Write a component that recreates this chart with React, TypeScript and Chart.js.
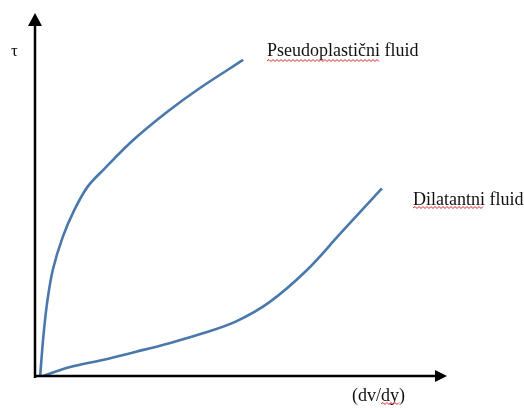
import React, { useEffect, useRef } from "react";
import { Chart, registerables } from "chart.js";
Chart.register(...registerables);

// Shear rate (x) and shear stress (y), arbitrary units
const pseudoX = [0, 0.81, 1.72, 3.12, 5.58, 8.43, 11.7, 15.8, 22.9, 31.2, 39.3, 49.9];
const pseudoY = [0, 11.1, 20.3, 29.4, 38.5, 45.9, 52.3, 57.2, 65.1, 72.8, 79.4, 87.1];
const dilatX = [0, 7.2, 15.4, 23.6, 31.8, 40.0, 48.2, 56.3, 65.6, 73.7, 84.0];
const dilatY = [0, 2.7, 4.7, 6.95, 9.3, 12.0, 15.3, 20.5, 29.4, 39.3, 51.8];

const yLabel = "τ";
const xLabel = "(dv/dy)";
const pseudoLabel = "Pseudoplastični fluid";
const dilatLabel = "Dilatantni fluid";

const LINE_COLOR = "#4a78ab";
const FONT = '"Liberation Serif", "Times New Roman", serif';

function wavy(ctx: CanvasRenderingContext2D, x0: number, x1: number, y: number) {
  ctx.save();
  ctx.strokeStyle = "#e02020";
  ctx.lineWidth = 1;
  ctx.beginPath();
  let up = true;
  ctx.moveTo(x0, y);
  for (let x = x0 + 2; x <= x1; x += 2) {
    ctx.lineTo(x, up ? y - 1.5 : y + 0.5);
    up = !up;
  }
  ctx.stroke();
  ctx.restore();
}

const decorPlugin = {
  id: "decor",
  afterDatasetsDraw(chart: any) {
    const ctx: CanvasRenderingContext2D = chart.ctx;
    const { left, bottom, top, right } = chart.chartArea;
    ctx.save();
    ctx.strokeStyle = "#000";
    ctx.fillStyle = "#000";
    ctx.lineWidth = 2.5;
    // y axis
    const ax = left - 1;
    ctx.beginPath();
    ctx.moveTo(ax, bottom + 1);
    ctx.lineTo(ax, top + 12);
    ctx.stroke();
    ctx.beginPath();
    ctx.moveTo(ax, top);
    ctx.lineTo(ax - 7, top + 13);
    ctx.lineTo(ax + 7, top + 13);
    ctx.closePath();
    ctx.fill();
    // x axis
    const ay = bottom - 1;
    ctx.beginPath();
    ctx.moveTo(ax - 1, ay);
    ctx.lineTo(right - 10, ay);
    ctx.stroke();
    ctx.beginPath();
    ctx.moveTo(right, ay);
    ctx.lineTo(right - 12, ay - 6);
    ctx.lineTo(right - 12, ay + 6);
    ctx.closePath();
    ctx.fill();

    // labels
    ctx.textBaseline = "alphabetic";
    ctx.textAlign = "left";
    ctx.fillStyle = "#111";
    ctx.font = `17px ${FONT}`;
    ctx.fillText(yLabel, 11, 56);
    ctx.font = `18px ${FONT}`;
    ctx.fillText(pseudoLabel, 267, 56);
    const w1 = ctx.measureText("Pseudoplastični").width;
    wavy(ctx, 267, 267 + w1, 61);
    ctx.fillText(dilatLabel, 413, 205);
    const w2 = ctx.measureText("Dilatantni").width;
    wavy(ctx, 413, 413 + w2, 208);
    ctx.fillText(xLabel, 352, 401);
    const w3a = ctx.measureText("(dv/").width;
    const w3b = ctx.measureText("(dv/dy").width;
    wavy(ctx, 352 + w3a, 352 + w3b, 404);
    ctx.restore();
  },
};

export default function App() {
  const ref = useRef<HTMLCanvasElement>(null);
  useEffect(() => {
    if (!ref.current) return;
    const chart = new Chart(ref.current, {
      type: "line",
      data: {
        datasets: [
          {
            label: pseudoLabel,
            data: pseudoX.map((x, i) => ({ x, y: pseudoY[i] })),
            borderColor: LINE_COLOR,
            borderWidth: 2.6,
            pointRadius: 0,
            tension: 0.35,
            fill: false,
          },
          {
            label: dilatLabel,
            data: dilatX.map((x, i) => ({ x, y: dilatY[i] })),
            borderColor: LINE_COLOR,
            borderWidth: 2.6,
            pointRadius: 0,
            tension: 0.35,
            fill: false,
          },
        ],
      },
      options: {
        animation: false,
        responsive: false,
        events: [],
        layout: { padding: { left: 36, right: 77, top: 13, bottom: 31 } },
        plugins: { legend: { display: false }, tooltip: { enabled: false } },
        scales: {
          x: { type: "linear", min: -1, max: 100, display: false },
          y: { type: "linear", min: 0, max: 100, display: false },
        },
      },
      plugins: [decorPlugin],
    });
    return () => chart.destroy();
  }, []);
  return (
    <div style={{ position: "absolute", left: 0, top: 0, width: 524, height: 408, background: "#fff" }}>
      <canvas ref={ref} width={524} height={408} style={{ display: "block" }} />
    </div>
  );
}
